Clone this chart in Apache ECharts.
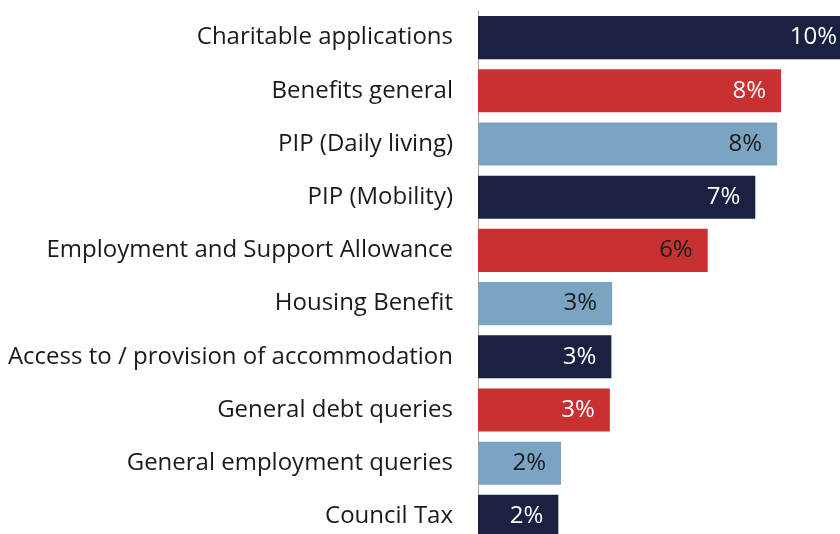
<!DOCTYPE html>
<html>
<head>
<meta charset="utf-8">
<title>Top advice topics</title>
<script src="https://cdn.jsdelivr.net/npm/echarts@6/dist/echarts.min.js"></script>
<style>
  html, body { margin: 0; padding: 0; background: #ffffff; }
  #chart { width: 840px; height: 534px; }
</style>
</head>
<body>
<div id="chart"></div>
<script>
// Advice topics, top to bottom
const categories = [
  'Charitable applications',
  'Benefits general',
  'PIP (Daily living)',
  'PIP (Mobility)',
  'Employment and Support Allowance',
  'Housing Benefit',
  'Access to / provision of accommodation',
  'General debt queries',
  'General employment queries',
  'Council Tax'
];

// Share of enquiries (%), labelled rounded to whole percent
const shares = [9.59, 7.77, 7.67, 7.11, 5.89, 3.44, 3.42, 3.38, 2.13, 2.06];

// Bar fill and label colour for each topic
const barColors = ['#1b2142', '#c93032', '#7ba4c3', '#1b2142', '#c93032',
                   '#7ba4c3', '#1b2142', '#c93032', '#7ba4c3', '#1b2142'];
const labelColors = ['#ffffff', '#ffffff', '#1a1a1a', '#ffffff', '#1a1a1a',
                     '#1a1a1a', '#ffffff', '#ffffff', '#1a1a1a', '#ffffff'];

const FONT = 'Open Sans';

const chart = echarts.init(document.getElementById('chart'), null, { renderer: 'canvas' });

chart.setOption({
  animation: false,
  backgroundColor: '#ffffff',
  // plot area runs a little past the right and bottom edges of the page
  grid: {
    left: 478, top: 11, width: 390, height: 532,
    containLabel: false,
    outerBoundsMode: 'none'
  },
  xAxis: {
    type: 'value',
    min: 0,
    max: 10,
    show: false
  },
  yAxis: {
    type: 'category',
    data: categories,
    inverse: true,
    axisLine: { show: true, lineStyle: { color: '#a6a6a6', width: 1 } },
    axisTick: { show: false },
    axisLabel: {
      margin: 25,
      color: '#1a1a1a',
      fontFamily: FONT,
      fontSize: 24,
      padding: [4, 0, 0, 0]
    }
  },
  series: [{
    type: 'bar',
    barCategoryGap: '19%',
    data: shares.map((v, i) => ({
      value: v,
      itemStyle: { color: barColors[i] },
      label: { color: labelColors[i] }
    })),
    label: {
      show: true,
      position: 'insideRight',
      distance: 15,
      fontFamily: FONT,
      fontSize: 24,
      padding: [4, 0, 0, 0],
      formatter: p => Math.round(p.value) + '%'
    }
  }]
});
</script>
</body>
</html>
